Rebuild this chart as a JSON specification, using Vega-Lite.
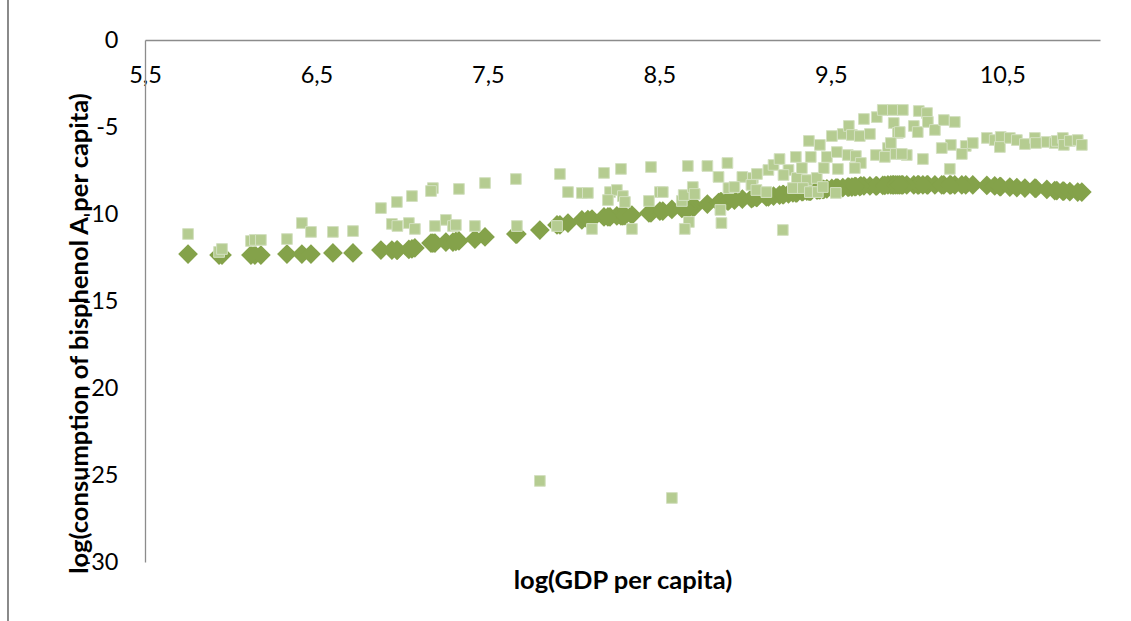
{
  "$schema": "https://vega.github.io/schema/vega-lite/v6.json",
  "width": 955,
  "height": 522,
  "autosize": {"type": "none"},
  "padding": {"left": 145, "top": 40, "right": 31, "bottom": 59},
  "background": "white",
  "config": {"view": {"stroke": null}, "font": "Lato"},
  "data": {"values": [
    {"gdp": 5.751, "bpa": -11.15, "fit": -12.30},
    {"gdp": 5.932, "bpa": -12.18, "fit": -12.36},
    {"gdp": 5.949, "bpa": -12.01, "fit": -12.36},
    {"gdp": 6.118, "bpa": -11.55, "fit": -12.36},
    {"gdp": 6.141, "bpa": -11.49, "fit": -12.36},
    {"gdp": 6.176, "bpa": -11.49, "fit": -12.36},
    {"gdp": 6.328, "bpa": -11.44, "fit": -12.30},
    {"gdp": 6.415, "bpa": -10.52, "fit": -12.30},
    {"gdp": 6.468, "bpa": -11.03, "fit": -12.30},
    {"gdp": 6.596, "bpa": -11.03, "fit": -12.24},
    {"gdp": 6.713, "bpa": -10.98, "fit": -12.24},
    {"gdp": 6.876, "bpa": -9.66, "fit": -12.07},
    {"gdp": 6.969, "bpa": -9.31, "fit": -12.07},
    {"gdp": 7.057, "bpa": -8.97, "fit": -12.01},
    {"gdp": 6.940, "bpa": -10.57, "fit": -12.07},
    {"gdp": 6.972, "bpa": -10.69, "fit": -12.07},
    {"gdp": 7.039, "bpa": -10.52, "fit": -12.04},
    {"gdp": 7.074, "bpa": -10.86, "fit": -11.95},
    {"gdp": 7.179, "bpa": -8.51, "fit": -11.67},
    {"gdp": 7.168, "bpa": -8.68, "fit": -11.67},
    {"gdp": 7.331, "bpa": -8.56, "fit": -11.55},
    {"gdp": 7.483, "bpa": -8.22, "fit": -11.32},
    {"gdp": 7.191, "bpa": -10.69, "fit": -11.67},
    {"gdp": 7.255, "bpa": -10.34, "fit": -11.61},
    {"gdp": 7.296, "bpa": -10.69, "fit": -11.61},
    {"gdp": 7.313, "bpa": -10.63, "fit": -11.58},
    {"gdp": 7.424, "bpa": -10.69, "fit": -11.44},
    {"gdp": 7.663, "bpa": -7.99, "fit": -11.15},
    {"gdp": 7.669, "bpa": -10.69, "fit": -11.15},
    {"gdp": 7.803, "bpa": -25.34, "fit": -10.92},
    {"gdp": 7.920, "bpa": -7.70, "fit": -10.63},
    {"gdp": 7.903, "bpa": -10.69, "fit": -10.63},
    {"gdp": 7.967, "bpa": -8.74, "fit": -10.52},
    {"gdp": 8.048, "bpa": -8.79, "fit": -10.34},
    {"gdp": 8.083, "bpa": -8.79, "fit": -10.32},
    {"gdp": 8.107, "bpa": -10.86, "fit": -10.29},
    {"gdp": 8.177, "bpa": -7.64, "fit": -10.17},
    {"gdp": 8.276, "bpa": -7.41, "fit": -10.11},
    {"gdp": 8.212, "bpa": -8.74, "fit": -10.17},
    {"gdp": 8.252, "bpa": -8.62, "fit": -10.11},
    {"gdp": 8.287, "bpa": -8.97, "fit": -10.11},
    {"gdp": 8.200, "bpa": -9.20, "fit": -10.17},
    {"gdp": 8.299, "bpa": -9.31, "fit": -10.09},
    {"gdp": 8.340, "bpa": -10.86, "fit": -10.06},
    {"gdp": 8.451, "bpa": -7.30, "fit": -9.94},
    {"gdp": 8.439, "bpa": -9.25, "fit": -9.94},
    {"gdp": 8.503, "bpa": -8.74, "fit": -9.83},
    {"gdp": 8.520, "bpa": -8.74, "fit": -9.83},
    {"gdp": 8.573, "bpa": -26.32, "fit": -9.74},
    {"gdp": 8.666, "bpa": -7.24, "fit": -9.66},
    {"gdp": 8.631, "bpa": -9.25, "fit": -9.68},
    {"gdp": 8.642, "bpa": -8.91, "fit": -9.68},
    {"gdp": 8.695, "bpa": -8.45, "fit": -9.60},
    {"gdp": 8.706, "bpa": -8.85, "fit": -9.57},
    {"gdp": 8.672, "bpa": -10.46, "fit": -9.66},
    {"gdp": 8.648, "bpa": -10.86, "fit": -9.68},
    {"gdp": 8.780, "bpa": -7.24, "fit": -9.43},
    {"gdp": 8.897, "bpa": -7.07, "fit": -9.25},
    {"gdp": 8.845, "bpa": -7.87, "fit": -9.34},
    {"gdp": 8.856, "bpa": -9.77, "fit": -9.31},
    {"gdp": 8.862, "bpa": -10.52, "fit": -9.31},
    {"gdp": 8.984, "bpa": -7.87, "fit": -9.14},
    {"gdp": 9.045, "bpa": -7.93, "fit": -9.08},
    {"gdp": 9.069, "bpa": -7.70, "fit": -9.05},
    {"gdp": 8.903, "bpa": -8.51, "fit": -9.25},
    {"gdp": 8.938, "bpa": -8.45, "fit": -9.20},
    {"gdp": 9.037, "bpa": -8.33, "fit": -9.11},
    {"gdp": 9.066, "bpa": -8.62, "fit": -9.05},
    {"gdp": 9.124, "bpa": -8.74, "fit": -9.02},
    {"gdp": 9.136, "bpa": -7.47, "fit": -9.02},
    {"gdp": 9.166, "bpa": -7.18, "fit": -8.97},
    {"gdp": 9.201, "bpa": -6.84, "fit": -8.91},
    {"gdp": 9.253, "bpa": -7.47, "fit": -8.85},
    {"gdp": 9.224, "bpa": -7.76, "fit": -8.88},
    {"gdp": 9.220, "bpa": -10.92, "fit": -8.88},
    {"gdp": 9.296, "bpa": -6.72, "fit": -8.79},
    {"gdp": 9.302, "bpa": -7.93, "fit": -8.79},
    {"gdp": 9.279, "bpa": -8.51, "fit": -8.79},
    {"gdp": 9.331, "bpa": -7.36, "fit": -8.71},
    {"gdp": 9.360, "bpa": -8.05, "fit": -8.68},
    {"gdp": 9.418, "bpa": -7.93, "fit": -8.62},
    {"gdp": 9.337, "bpa": -8.51, "fit": -8.71},
    {"gdp": 9.378, "bpa": -8.74, "fit": -8.68},
    {"gdp": 9.424, "bpa": -8.74, "fit": -8.62},
    {"gdp": 9.453, "bpa": -8.45, "fit": -8.59},
    {"gdp": 9.529, "bpa": -8.79, "fit": -8.51},
    {"gdp": 9.383, "bpa": -6.72, "fit": -8.68},
    {"gdp": 9.372, "bpa": -5.80, "fit": -8.68},
    {"gdp": 9.436, "bpa": -6.03, "fit": -8.62},
    {"gdp": 9.477, "bpa": -6.72, "fit": -8.56},
    {"gdp": 9.459, "bpa": -7.36, "fit": -8.59},
    {"gdp": 9.541, "bpa": -7.41, "fit": -8.51},
    {"gdp": 9.535, "bpa": -6.44, "fit": -8.51},
    {"gdp": 9.506, "bpa": -5.52, "fit": -8.53},
    {"gdp": 9.570, "bpa": -5.40, "fit": -8.48},
    {"gdp": 9.605, "bpa": -4.94, "fit": -8.45},
    {"gdp": 9.623, "bpa": -5.46, "fit": -8.45},
    {"gdp": 9.669, "bpa": -5.52, "fit": -8.42},
    {"gdp": 9.693, "bpa": -4.54, "fit": -8.39},
    {"gdp": 9.728, "bpa": -5.40, "fit": -8.39},
    {"gdp": 9.768, "bpa": -4.43, "fit": -8.39},
    {"gdp": 9.803, "bpa": -4.02, "fit": -8.36},
    {"gdp": 9.862, "bpa": -4.02, "fit": -8.33},
    {"gdp": 9.867, "bpa": -4.77, "fit": -8.33},
    {"gdp": 9.891, "bpa": -5.34, "fit": -8.33},
    {"gdp": 9.833, "bpa": -6.21, "fit": -8.33},
    {"gdp": 9.850, "bpa": -5.92, "fit": -8.33},
    {"gdp": 9.763, "bpa": -6.61, "fit": -8.39},
    {"gdp": 9.815, "bpa": -6.72, "fit": -8.36},
    {"gdp": 9.879, "bpa": -6.55, "fit": -8.33},
    {"gdp": 9.599, "bpa": -6.61, "fit": -8.45},
    {"gdp": 9.646, "bpa": -6.67, "fit": -8.42},
    {"gdp": 9.675, "bpa": -7.07, "fit": -8.39},
    {"gdp": 9.640, "bpa": -7.36, "fit": -8.42},
    {"gdp": 9.920, "bpa": -4.02, "fit": -8.33},
    {"gdp": 9.984, "bpa": -4.94, "fit": -8.33},
    {"gdp": 10.007, "bpa": -5.29, "fit": -8.33},
    {"gdp": 10.013, "bpa": -4.08, "fit": -8.33},
    {"gdp": 10.061, "bpa": -4.20, "fit": -8.33},
    {"gdp": 10.066, "bpa": -4.71, "fit": -8.33},
    {"gdp": 10.107, "bpa": -5.17, "fit": -8.33},
    {"gdp": 10.159, "bpa": -4.60, "fit": -8.33},
    {"gdp": 10.223, "bpa": -4.71, "fit": -8.33},
    {"gdp": 10.200, "bpa": -6.03, "fit": -8.33},
    {"gdp": 10.147, "bpa": -6.21, "fit": -8.33},
    {"gdp": 10.287, "bpa": -6.09, "fit": -8.33},
    {"gdp": 10.328, "bpa": -5.92, "fit": -8.33},
    {"gdp": 10.264, "bpa": -6.55, "fit": -8.33},
    {"gdp": 10.194, "bpa": -7.41, "fit": -8.33},
    {"gdp": 10.037, "bpa": -6.84, "fit": -8.33},
    {"gdp": 9.943, "bpa": -6.61, "fit": -8.33},
    {"gdp": 9.914, "bpa": -6.55, "fit": -8.33},
    {"gdp": 9.902, "bpa": -5.29, "fit": -8.33},
    {"gdp": 10.410, "bpa": -5.63, "fit": -8.36},
    {"gdp": 10.456, "bpa": -5.75, "fit": -8.39},
    {"gdp": 10.491, "bpa": -5.57, "fit": -8.42},
    {"gdp": 10.486, "bpa": -6.15, "fit": -8.42},
    {"gdp": 10.544, "bpa": -5.63, "fit": -8.45},
    {"gdp": 10.585, "bpa": -5.75, "fit": -8.48},
    {"gdp": 10.632, "bpa": -5.98, "fit": -8.51},
    {"gdp": 10.690, "bpa": -5.63, "fit": -8.51},
    {"gdp": 10.696, "bpa": -5.92, "fit": -8.53},
    {"gdp": 10.760, "bpa": -5.86, "fit": -8.59},
    {"gdp": 10.806, "bpa": -5.92, "fit": -8.65},
    {"gdp": 10.818, "bpa": -5.80, "fit": -8.65},
    {"gdp": 10.853, "bpa": -5.63, "fit": -8.68},
    {"gdp": 10.859, "bpa": -6.03, "fit": -8.68},
    {"gdp": 10.894, "bpa": -5.80, "fit": -8.71},
    {"gdp": 10.940, "bpa": -5.75, "fit": -8.74},
    {"gdp": 10.964, "bpa": -6.03, "fit": -8.74}
  ]},
  "layer": [
    {
      "mark": {"type": "rule", "clip": false, "color": "#8C8C8C", "strokeWidth": 1},
      "encoding": {
        "x": {"datum": 4.703, "type": "quantitative"},
        "y": {"datum": 2.35, "type": "quantitative"},
        "y2": {"datum": -33.45}
      }
    },
    {
      "mark": {"type": "point", "shape": "diamond", "filled": true, "size": 390, "color": "#84A24A", "opacity": 1},
      "encoding": {
        "x": {
          "field": "gdp", "type": "quantitative",
          "scale": {"domain": [5.5, 11.07], "nice": false, "zero": false},
          "axis": {
            "orient": "top",
            "values": [5.5, 6.5, 7.5, 8.5, 9.5, 10.5],
            "labelExpr": "replace(format(datum.value, '.1f'), '.', ',')",
            "labelFlush": false,
            "labelOverlap": false,
            "ticks": false,
            "tickSize": 0,
            "grid": false,
            "domainColor": "#8C8C8C",
            "domainWidth": 1.3,
            "labelPadding": -42,
            "labelBaseline": "alphabetic",
            "labelAlign": "center",
            "labelFont": "Lato",
            "labelFontSize": 23.5,
            "labelColor": "#000000",
            "title": "log(GDP per capita)",
            "titleFont": "Lato",
            "titleFontSize": 25.5,
            "titleFontWeight": "bold",
            "titleColor": "#000000",
            "titleX": 477.5,
            "titleY": 548,
            "titleAlign": "center",
            "titleBaseline": "alphabetic",
            "titleAngle": 0
          }
        },
        "y": {
          "field": "fit", "type": "quantitative",
          "scale": {"domain": [-30, 0], "nice": false, "zero": false},
          "axis": {
            "values": [-30, -25, -20, -15, -10, -5, 0],
            "labelExpr": "'' + datum.value",
            "labelFlush": false,
            "labelOverlap": false,
            "ticks": false,
            "tickSize": 0,
            "grid": false,
            "domainColor": "#8C8C8C",
            "domainWidth": 1.3,
            "labelPadding": 27,
            "labelFont": "Lato",
            "labelFontSize": 23.5,
            "labelColor": "#000000",
            "title": "log(consumption of bisphenol A per capita)",
            "titleFont": "Lato",
            "titleFontSize": 25.5,
            "titleFontWeight": "bold",
            "titleColor": "#000000",
            "titleAngle": 270,
            "titleX": -58,
            "titleY": 293,
            "titleAlign": "center",
            "titleBaseline": "alphabetic"
          }
        }
      }
    },
    {
      "mark": {"type": "point", "shape": "square", "filled": true, "size": 115, "color": "#B5CC91", "stroke": "#D3E0C0", "strokeWidth": 1, "opacity": 1},
      "encoding": {
        "x": {"field": "gdp", "type": "quantitative"},
        "y": {"field": "bpa", "type": "quantitative"}
      }
    }
  ]
}
